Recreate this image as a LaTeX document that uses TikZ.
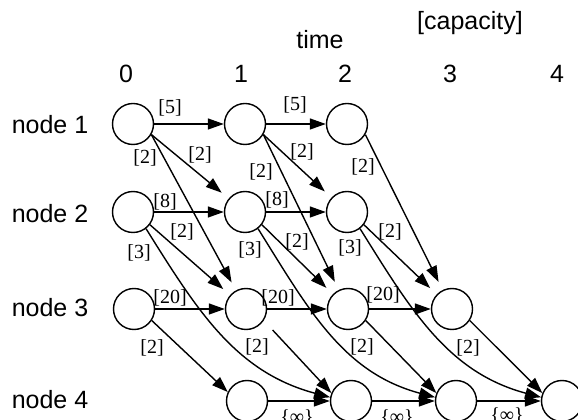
\documentclass[tikz,border=0pt]{standalone}
\usepackage{fontspec}
\setmainfont{Liberation Serif}
\newfontfamily\labelsans{Liberation Sans}
\usetikzlibrary{arrows.meta}
\begin{document}
\begin{tikzpicture}[x=1pt,y=1pt,
  event/.style={circle,draw,line width=1.4pt,minimum size=41pt,inner sep=0pt},
  arc/.style={line width=1.4pt,-{Triangle[length=16pt,width=11pt]}},
  diag/.style={arc,shorten >=9pt},
  axis/.style={font=\labelsans\fontsize{25}{30}\selectfont,inner sep=0pt},
  cp/.style={font=\fontsize{20}{24}\selectfont,inner sep=0pt}]
\clip (0,0) rectangle (578,420);

% axis texts
\node[axis] (cap) at (470,397) {[capacity]};
\node[axis] (time) at (320,380) {time};
\node[axis] (t0) at (126,346) {0};
\node[axis] (t1) at (241,346) {1};
\node[axis] (t2) at (345,346) {2};
\node[axis] (t3) at (450,346) {3};
\node[axis] (t4) at (557,346) {4};
\node[axis] (r1) at (50,295) {node 1};
\node[axis] (r2) at (50,206) {node 2};
\node[axis] (r3) at (50,112) {node 3};
\node[axis] (r4) at (50,20) {node 4};

% time-expanded copies of the nodes
\node[event] (n10) at (133,296) {};
\node[event] (n11) at (245,296) {};
\node[event] (n12) at (347,296) {};
\node[event] (n20) at (133,208) {};
\node[event] (n21) at (245,208) {};
\node[event] (n22) at (347,208) {};
\node[event] (n30) at (134,111) {};
\node[event] (n31) at (246,111) {};
\node[event] (n32) at (348,111) {};
\node[event] (n33) at (452,111) {};
\node[event] (n41) at (247,19) {};
\node[event] (n42) at (351,19) {};
\node[event] (n43) at (456,19) {};
\node[event] (n44) at (562,19) {};

% holding arcs
\draw[arc] (n10) -- (n11);
\draw[arc] (n11) -- (n12);
\draw[arc] (n20) -- (n21);
\draw[arc] (n21) -- (n22);
\draw[arc] (n30) -- (n31);
\draw[arc] (n31) -- (n32);
\draw[arc] (n32) -- (n33);
\draw[arc] (n41) -- (n42);
\draw[arc] (n42) -- (n43);
\draw[arc] (n43) -- (n44);

% moves of one time step
\draw[diag] (n10.-30) -- (n21);
\draw[diag] (n10.-30) -- (n31);
\draw[diag] (n11.-30) -- (n22);
\draw[diag] (n11.-30) -- (n32);
\draw[diag] (n12.-30) -- (n33);
\draw[diag] (n20.-37) -- (n31);
\draw[diag] (n21.-37) -- (n32);
\draw[diag] (n22.-37) -- (n33);
\draw[arc] (n30.-33) -- (n41.155);
\draw[arc,shorten <=13pt] (n31.-33) -- (n42.158);
\draw[arc] (n32.-33) -- (n43.158);
\draw[arc] (n33.-33) -- (n44.158);

% moves of two time steps
\draw[arc] (n20.-52) to[out=-58,in=165] (n42.170);
\draw[arc] (n21.-52) to[out=-58,in=165] (n43.170);
\draw[arc] (n22.-52) to[out=-58,in=165] (n44.170);

% capacities
\node[cp] (c1) at (170,312) {[5]};
\node[cp] (c2) at (295,315) {[5]};
\node[cp] (c3) at (145,262) {[2]};
\node[cp] (c4) at (200,265) {[2]};
\node[cp] (c5) at (261,248) {[2]};
\node[cp] (c6) at (302,268) {[2]};
\node[cp] (c7) at (363,253) {[2]};
\node[cp] (c8) at (165,218) {[8]};
\node[cp] (c9) at (277,220) {[8]};
\node[cp] (c10) at (182,188) {[2]};
\node[cp] (c11) at (139,167) {[3]};
\node[cp] (c12) at (250,170) {[3]};
\node[cp] (c13) at (297,178) {[2]};
\node[cp] (c14) at (350,172) {[3]};
\node[cp] (c15) at (390,188) {[2]};
\node[cp] (c16) at (170,122) {[20]};
\node[cp] (c17) at (278,122) {[20]};
\node[cp] (c18) at (383,125) {[20]};
\node[cp] (c19) at (152,72) {[2]};
\node[cp] (c20) at (257,73) {[2]};
\node[cp] (c21) at (362,73) {[2]};
\node[cp] (c22) at (468,72) {[2]};
\node[cp] (c23) at (297,2) {\{∞\}};
\node[cp] (c24) at (397,2) {\{∞\}};
\node[cp] (c25) at (507,4) {\{∞\}};
\end{tikzpicture}
\end{document}
